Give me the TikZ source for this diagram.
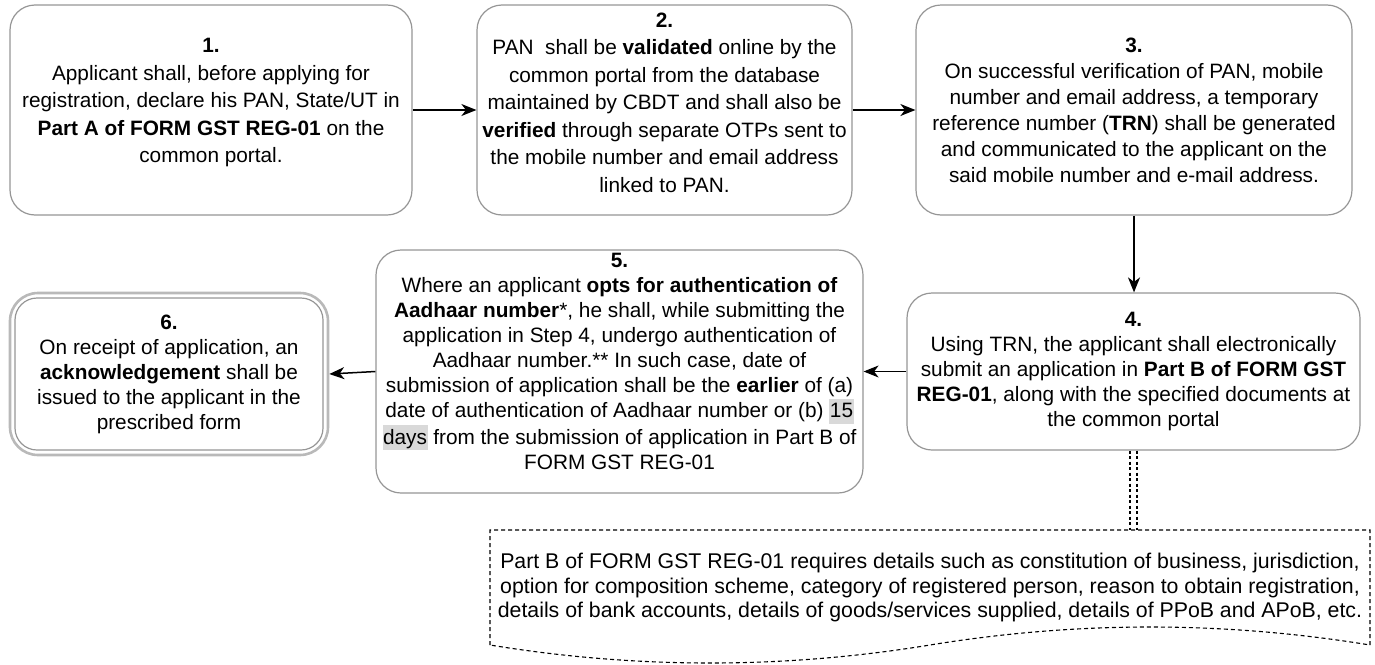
\documentclass[tikz,border=0pt]{standalone}
\usepackage{fontspec}
\setmainfont{Liberation Sans}
\usetikzlibrary{arrows.meta}
\definecolor{bordergray}{RGB}{150,150,150}
\definecolor{outergray}{RGB}{185,185,185}
\definecolor{hlgray}{RGB}{217,217,217}
\newcommand\fs{\fontsize{20.8}{25}\selectfont}
\newcommand\fstop{\fontsize{20.8}{27.5}\selectfont}
\newcommand\fsthree{\fontsize{20.8}{26}\selectfont}
\newcommand\fsdoc{\fontsize{21.3}{24.5}\selectfont}
\newcommand\hlt[1]{{\setlength\fboxsep{0.5pt}\colorbox{hlgray}{\rule[-0.27em]{0pt}{1.17em}#1}}}
\begin{document}
\begin{tikzpicture}[x=1pt,y=-1pt,
  box/.style={draw=bordergray, line width=1.2pt, rounded corners=25pt, align=center,
    font=\fs, inner sep=0pt, fill=white},
  txt/.style={align=center, font=\fs, inner sep=0pt},
  outerbox/.style={draw=outergray, line width=2.6pt, rounded corners=28pt, inner sep=0pt},
  flow/.style={-{Stealth[length=15pt,width=12pt,inset=4.5pt]}, line width=1.5pt, black},
  dashline/.style={black, line width=1.1pt, dash pattern=on 4pt off 3pt}]
\useasboundingbox (0,0) rectangle (1375,664);

\node[box, minimum width=402pt, minimum height=210pt] (b1) at (211,110) {};
\node[txt, font=\fstop] (b1t) at ([yshift=7.5pt]b1.center)
  {\textbf{1.}\\Applicant shall, before applying for\\registration, declare his PAN, State/UT in\\\textbf{Part A of FORM GST REG-01} on the\\common portal.};
\node[box, minimum width=375pt, minimum height=210pt] (b2) at (664.5,110) {};
\node[txt, font=\fstop] (b2t) at ([yshift=7.5pt]b2.center)
  {\textbf{2.}\\PAN\ \ shall be \textbf{validated} online by the\\common portal from the database\\maintained by CBDT and shall also be\\\textbf{verified} through separate OTPs sent to\\the mobile number and email address\\linked to PAN.};
\node[box, minimum width=436pt, minimum height=210pt, font=\fsthree] (b3) at (1134,110)
  {\textbf{3.}\\On successful verification of PAN, mobile\\number and email address, a temporary\\reference number (\textbf{TRN}) shall be generated\\and communicated to the applicant on the\\said mobile number and e-mail address.};
\node[box, minimum width=453pt, minimum height=157pt] (b4) at (1133.5,371.5)
  {\textbf{4.}\\Using TRN, the applicant shall electronically\\submit an application in \textbf{Part B of FORM GST}\\\textbf{REG-01}, along with the specified documents at\\the common portal};
\node[box, minimum width=487pt, minimum height=243pt] (b5) at (619.5,371.5) {};
\node[txt] (b5t) at ([yshift=10pt]b5.center)
  {\textbf{5.}\\Where an applicant \textbf{opts for authentication of}\\\textbf{Aadhaar number}*, he shall, while submitting the\\application in Step 4, undergo authentication of\\Aadhaar number.** In such case, date of\\submission of application shall be the \textbf{earlier} of (a)\\date of authentication of Aadhaar number or (b) \hlt{15}\\\hlt{days} from the submission of application in Part B of\\FORM GST REG-01};
\node[outerbox, minimum width=318pt, minimum height=162pt] (b6o) at (169,374) {};
\node[box, minimum width=308pt, minimum height=152pt, rounded corners=22pt] (b6) at (169,374)
  {\textbf{6.}\\On receipt of application, an\\\textbf{acknowledgement} shall be\\issued to the applicant in the\\prescribed form};

% document shape
\node[align=center, font=\fsdoc, inner sep=0pt, minimum width=880pt, minimum height=115pt] (doc) at (930,587.5)
  {Part B of FORM GST REG-01 requires details such as constitution of business, jurisdiction,\\option for composition scheme, category of registered person, reason to obtain registration,\\details of bank accounts, details of goods/services supplied, details of PPoB and APoB, etc.};
\draw[dashline] (490,645) -- (490,530) -- (1370,530) -- (1370,645)
  .. controls (1223.3,621) and (1076.7,621) .. (930,645)
  .. controls (783.3,669) and (636.7,669) .. (490,645);

% connectors
\draw[flow] (b1.east) -- (b2.west);
\draw[flow] (b2.east) -- (b3.west);
\draw[flow] (b3.south) -- (b3.south |- b4.north);
\draw[flow] (b4.west) -- (b5.east);
\draw[flow] (b5.west) -- (b6o.east);
\draw[dashline, dash pattern=on 3pt off 2.5pt] ([xshift=-3.5pt]b4.south) -- ([xshift=-3.5pt]b4.south |- doc.north);
\draw[dashline, dash pattern=on 3pt off 2.5pt] ([xshift=3.5pt]b4.south) -- ([xshift=3.5pt]b4.south |- doc.north);
\end{tikzpicture}
\end{document}
